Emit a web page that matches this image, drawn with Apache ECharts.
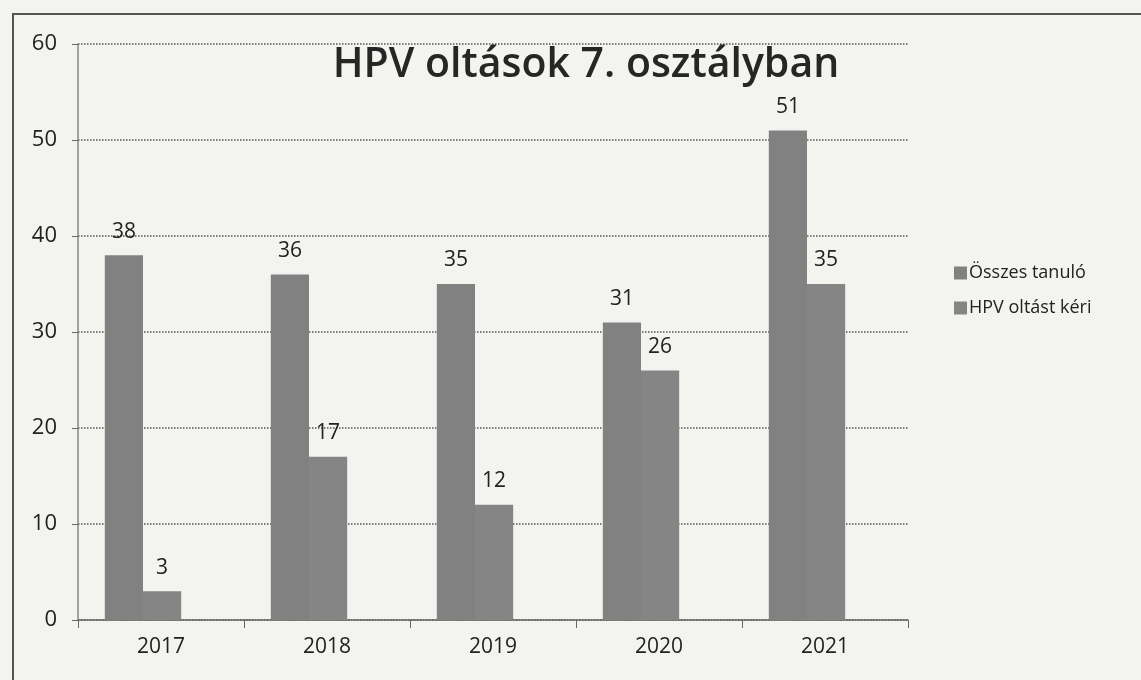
<!DOCTYPE html>
<html><head><meta charset="utf-8">
<script src="https://cdn.jsdelivr.net/npm/echarts@6/dist/echarts.min.js"></script>
<style>html,body{margin:0;padding:0;background:#f3f3ef;}#c{width:1141px;height:680px;}</style>
</head><body><div id="c"></div>
<script>
const categories = ['2017','2018','2019','2020','2021'];
const osszes = [38, 36, 35, 31, 51];
const hpv = [3, 17, 12, 26, 35];
const yTicks = [0, 10, 20, 30, 40, 50, 60];

const chart = echarts.init(document.getElementById('c'));
const font = '"Open Sans", "Noto Sans", sans-serif';
const lbl = {show: true, position: 'top', color: '#222', fontSize: 21, fontFamily: font, distance: 13};
chart.setOption({
  backgroundColor: '#f3f3ef',
  animation: false,
  title: {text: 'HPV oltások 7. osztályban', left: 581, top: 40, textAlign: 'center',
    textStyle: {fontSize: 41, fontWeight: 600, color: '#262626', fontFamily: font}},
  legend: {orient: 'vertical', left: 949, top: 259, itemWidth: 13, itemHeight: 13, itemGap: 17,
    icon: 'rect', textStyle: {fontSize: 18, color: '#222', fontFamily: font, padding: [0,0,0,-3]}},
  grid: [
    {left: 78, right: 233, top: 44, bottom: 60, containLabel: false},
    {left: 60, right: 251, top: 44, bottom: 60, containLabel: false}
  ],
  xAxis: [
    {type: 'category', data: categories, gridIndex: 0,
      axisLine: {lineStyle: {color: '#666', width: 1.5}},
      axisTick: {show: true, length: 8, lineStyle: {color: '#666'}},
      axisLabel: {fontSize: 21, color: '#222', margin: 17, fontFamily: font}},
    {type: 'category', data: categories, gridIndex: 1, show: false}
  ],
  yAxis: [
    {type: 'value', min: 0, max: 60, interval: 10, gridIndex: 0,
      axisLine: {show: true, lineStyle: {color: '#888', width: 1.5}},
      axisTick: {show: true, length: 6, lineStyle: {color: '#666'}},
      axisLabel: {fontSize: 22, color: '#222', margin: 21, fontFamily: font,
        formatter: v => yTicks.includes(v) ? String(v) : ''},
      splitLine: {lineStyle: {color: '#555', type: 'dotted', width: 1.5}}},
    {type: 'value', min: 0, max: 60, interval: 10, gridIndex: 1, show: false}
  ],
  series: [
    {name: 'Összes tanuló', type: 'bar', data: osszes, xAxisIndex: 1, yAxisIndex: 1,
      barGap: '0%', barCategoryGap: '54%', itemStyle: {color: '#818181'}, label: lbl},
    {name: 'HPV oltást kéri', type: 'bar', data: hpv, xAxisIndex: 1, yAxisIndex: 1,
      itemStyle: {color: '#858585'}, label: lbl}
  ],
  graphic: [{type: 'rect', shape: {x: 13, y: 14, width: 1200, height: 700},
    style: {fill: 'none', stroke: '#555', lineWidth: 2}, silent: true}]
});
</script></body></html>
